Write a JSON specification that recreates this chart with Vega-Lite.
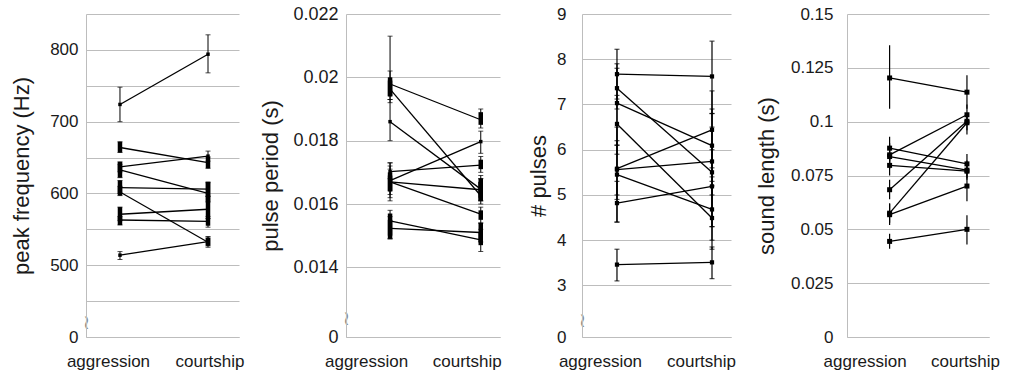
{
  "$schema": "https://vega.github.io/schema/vega-lite/v6.json",
  "padding": {"left": 10, "top": 5, "right": 5, "bottom": 5},
  "background": "white",
  "config": {
    "view": {"stroke": null},
    "font": "Liberation Sans",
    "axis": {"labelFont": "Liberation Sans", "titleFont": "Liberation Sans", "titleFontWeight": "normal", "labelColor": "#1a1a1a", "titleColor": "#1a1a1a", "domainColor": "#bdbdbd", "gridColor": "#bdbdbd", "labelFontSize": 17, "titleFontSize": 22},
    "axisY": {"labelOverlap": false, "tickCount": 30}
  },
  "datasets": {
    "p1": [
      {"id": 1, "cond": "aggression", "value": 724, "lo": 700, "hi": 748},
      {"id": 1, "cond": "courtship", "value": 794, "lo": 768, "hi": 821},
      {"id": 2, "cond": "aggression", "value": 664, "lo": 657, "hi": 672, "tlo": 657, "thi": 672},
      {"id": 2, "cond": "courtship", "value": 643, "lo": 635, "hi": 651, "tlo": 635, "thi": 651},
      {"id": 3, "cond": "aggression", "value": 637, "lo": 630, "hi": 644, "tlo": 630, "thi": 644},
      {"id": 3, "cond": "courtship", "value": 652, "lo": 645, "hi": 659},
      {"id": 4, "cond": "aggression", "value": 633, "lo": 622, "hi": 641, "tlo": 622, "thi": 641},
      {"id": 4, "cond": "courtship", "value": 600, "lo": 588, "hi": 615, "tlo": 588, "thi": 615},
      {"id": 5, "cond": "aggression", "value": 608, "lo": 600, "hi": 618, "tlo": 600, "thi": 618},
      {"id": 5, "cond": "courtship", "value": 606, "lo": 596, "hi": 616, "tlo": 596, "thi": 616},
      {"id": 6, "cond": "aggression", "value": 602, "lo": 597, "hi": 610, "tlo": 597, "thi": 610},
      {"id": 6, "cond": "courtship", "value": 532, "lo": 525, "hi": 540, "tlo": 527, "thi": 538},
      {"id": 7, "cond": "aggression", "value": 571, "lo": 562, "hi": 581, "tlo": 562, "thi": 581},
      {"id": 7, "cond": "courtship", "value": 578, "lo": 565, "hi": 596, "tlo": 565, "thi": 596},
      {"id": 8, "cond": "aggression", "value": 563, "lo": 556, "hi": 568, "tlo": 556, "thi": 568},
      {"id": 8, "cond": "courtship", "value": 561, "lo": 553, "hi": 568, "tlo": 555, "thi": 566},
      {"id": 9, "cond": "aggression", "value": 514, "lo": 508, "hi": 519},
      {"id": 9, "cond": "courtship", "value": 533, "lo": 527, "hi": 539, "tlo": 528, "thi": 538}
    ],
    "p2": [
      {"id": 1, "cond": "aggression", "value": 0.01979, "lo": 0.0192, "hi": 0.0213, "tlo": 0.0194, "thi": 0.0200},
      {"id": 1, "cond": "courtship", "value": 0.01866, "lo": 0.0184, "hi": 0.0190, "tlo": 0.0185, "thi": 0.0189},
      {"id": 2, "cond": "aggression", "value": 0.01963, "lo": 0.0193, "hi": 0.0202, "tlo": 0.0194, "thi": 0.0199},
      {"id": 2, "cond": "courtship", "value": 0.01626, "lo": 0.0160, "hi": 0.0168, "tlo": 0.0161, "thi": 0.0167},
      {"id": 3, "cond": "aggression", "value": 0.0186, "lo": 0.0180, "hi": 0.0193},
      {"id": 3, "cond": "courtship", "value": 0.01647, "lo": 0.0161, "hi": 0.0169, "tlo": 0.0162, "thi": 0.0168},
      {"id": 4, "cond": "aggression", "value": 0.01702, "lo": 0.0168, "hi": 0.0173},
      {"id": 4, "cond": "courtship", "value": 0.01723, "lo": 0.0170, "hi": 0.0175, "tlo": 0.0171, "thi": 0.0174},
      {"id": 5, "cond": "aggression", "value": 0.01674, "lo": 0.0163, "hi": 0.0172, "tlo": 0.0164, "thi": 0.0170},
      {"id": 5, "cond": "courtship", "value": 0.01797, "lo": 0.0176, "hi": 0.0183},
      {"id": 6, "cond": "aggression", "value": 0.0167, "lo": 0.0161, "hi": 0.0171, "tlo": 0.0164, "thi": 0.0169},
      {"id": 6, "cond": "courtship", "value": 0.01645, "lo": 0.0161, "hi": 0.0168, "tlo": 0.0161, "thi": 0.0167},
      {"id": 7, "cond": "aggression", "value": 0.0167, "lo": 0.0162, "hi": 0.0173},
      {"id": 7, "cond": "courtship", "value": 0.01568, "lo": 0.0154, "hi": 0.0159, "tlo": 0.0155, "thi": 0.0158},
      {"id": 8, "cond": "aggression", "value": 0.01547, "lo": 0.0149, "hi": 0.0158, "tlo": 0.0150, "thi": 0.0157},
      {"id": 8, "cond": "courtship", "value": 0.01487, "lo": 0.0145, "hi": 0.0152, "tlo": 0.0147, "thi": 0.0151},
      {"id": 9, "cond": "aggression", "value": 0.01523, "lo": 0.0149, "hi": 0.0156, "tlo": 0.0149, "thi": 0.0155},
      {"id": 9, "cond": "courtship", "value": 0.0151, "lo": 0.0148, "hi": 0.0154, "tlo": 0.0148, "thi": 0.0154}
    ],
    "p3": [
      {"id": 1, "cond": "aggression", "value": 7.67, "lo": 7.12, "hi": 8.22},
      {"id": 1, "cond": "courtship", "value": 7.62, "lo": 6.8, "hi": 8.4},
      {"id": 2, "cond": "aggression", "value": 7.36, "lo": 6.9, "hi": 7.8},
      {"id": 2, "cond": "courtship", "value": 5.5, "lo": 4.3, "hi": 6.8},
      {"id": 3, "cond": "aggression", "value": 7.03, "lo": 6.1, "hi": 7.9},
      {"id": 3, "cond": "courtship", "value": 6.09, "lo": 5.3, "hi": 6.9},
      {"id": 4, "cond": "aggression", "value": 6.57, "lo": 5.9, "hi": 7.2},
      {"id": 4, "cond": "courtship", "value": 4.49, "lo": 3.8, "hi": 5.2},
      {"id": 5, "cond": "aggression", "value": 5.58, "lo": 5.0, "hi": 6.1},
      {"id": 5, "cond": "courtship", "value": 6.44, "lo": 5.6, "hi": 7.3},
      {"id": 6, "cond": "aggression", "value": 5.56, "lo": 4.9, "hi": 6.2},
      {"id": 6, "cond": "courtship", "value": 5.74, "lo": 5.0, "hi": 6.5},
      {"id": 7, "cond": "aggression", "value": 5.45, "lo": 4.4, "hi": 6.5},
      {"id": 7, "cond": "courtship", "value": 4.68, "lo": 4.0, "hi": 5.4},
      {"id": 8, "cond": "aggression", "value": 4.82, "lo": 4.4, "hi": 5.3},
      {"id": 8, "cond": "courtship", "value": 5.19, "lo": 4.3, "hi": 6.0},
      {"id": 9, "cond": "aggression", "value": 3.46, "lo": 3.1, "hi": 3.8},
      {"id": 9, "cond": "courtship", "value": 3.51, "lo": 3.15, "hi": 3.85}
    ],
    "p4": [
      {"id": 1, "cond": "aggression", "value": 0.1203, "lo": 0.106, "hi": 0.1355},
      {"id": 1, "cond": "courtship", "value": 0.1137, "lo": 0.106, "hi": 0.1215},
      {"id": 2, "cond": "aggression", "value": 0.0877, "lo": 0.082, "hi": 0.093},
      {"id": 2, "cond": "courtship", "value": 0.0804, "lo": 0.076, "hi": 0.085},
      {"id": 3, "cond": "aggression", "value": 0.0846, "lo": 0.079, "hi": 0.09},
      {"id": 3, "cond": "courtship", "value": 0.1032, "lo": 0.099, "hi": 0.108},
      {"id": 4, "cond": "aggression", "value": 0.0838, "lo": 0.078, "hi": 0.089},
      {"id": 4, "cond": "courtship", "value": 0.0775, "lo": 0.074, "hi": 0.081},
      {"id": 5, "cond": "aggression", "value": 0.0797, "lo": 0.075, "hi": 0.085},
      {"id": 5, "cond": "courtship", "value": 0.077, "lo": 0.073, "hi": 0.082},
      {"id": 6, "cond": "aggression", "value": 0.0684, "lo": 0.064, "hi": 0.073},
      {"id": 6, "cond": "courtship", "value": 0.1002, "lo": 0.096, "hi": 0.104},
      {"id": 7, "cond": "aggression", "value": 0.0575, "lo": 0.053, "hi": 0.062},
      {"id": 7, "cond": "courtship", "value": 0.0995, "lo": 0.094, "hi": 0.103},
      {"id": 8, "cond": "aggression", "value": 0.0568, "lo": 0.052, "hi": 0.062},
      {"id": 8, "cond": "courtship", "value": 0.0701, "lo": 0.063, "hi": 0.077},
      {"id": 9, "cond": "aggression", "value": 0.0444, "lo": 0.041, "hi": 0.048},
      {"id": 9, "cond": "courtship", "value": 0.05, "lo": 0.043, "hi": 0.0565}
    ]
  },
  "bounds": "flush",
  "spacing": 496,
  "hconcat": [
    {
      "bounds": "flush",
      "spacing": 107,
      "hconcat": [
        {
          "width": 153, "height": 323,
          "data": {"name": "p1"},
          "encoding": {
            "x": {"field": "cond", "type": "nominal", "sort": ["aggression", "courtship"],
              "scale": {"type": "point", "padding": 0.369, "align": 0.523},
              "axis": {"title": null, "labelAngle": 0, "ticks": false, "labelFontSize": 17, "labelPadding": 16,
                "labelOffset": {"condition": {"test": "datum.value == 'aggression'", "value": -12}, "value": 1.5}}}
          },
          "layer": [
            {"mark": {"type": "rule", "color": "black", "strokeWidth": 1},
             "encoding": {"y": {"field": "lo", "type": "quantitative", "title": "peak frequency (Hz)",
                "scale": {"domain": [400, 850], "nice": false, "zero": false},
                "axis": {"values": [400, 420, 450, 500, 550, 600, 650, 700, 750, 800, 850],
                  "labelExpr": "datum.value == 400 ? '0' : datum.value == 420 ? '≀' : (datum.value % 100 == 0 ? toString(datum.value) : '')",
                  "ticks": false, "grid": true, "labelOverlap": false, "tickCount": 30,
                  "labelPadding": {"condition": {"test": "datum.value == 420", "value": 0}, "value": 8},
                  "labelAlign": {"condition": {"test": "datum.value == 420", "value": "center"}, "value": "right"},
                  "labelColor": {"condition": {"test": "datum.value == 420", "value": "#8a8a8a"}, "value": "#1a1a1a"},
                  "labelFont": {"condition": {"test": "datum.value == 420", "value": "DejaVu Sans"}, "value": "Liberation Sans"},
                  "labelFontSize": {"condition": {"test": "datum.value == 420", "value": 20}, "value": 17},
                  "gridOpacity": {"condition": {"test": "datum.value == 420", "value": 0}, "value": 1},
                  "titlePadding": 16}},
               "y2": {"field": "hi"}}},
            {"mark": {"type": "rule", "color": "black", "strokeWidth": 4.5},
             "encoding": {"y": {"field": "tlo", "type": "quantitative"}, "y2": {"field": "thi"}}},
            {"mark": {"type": "tick", "color": "black", "size": 5, "thickness": 1},
             "encoding": {"y": {"field": "lo", "type": "quantitative"}}},
            {"mark": {"type": "tick", "color": "black", "size": 5, "thickness": 1},
             "encoding": {"y": {"field": "hi", "type": "quantitative"}}},
            {"mark": {"type": "line", "color": "black", "strokeWidth": 1.3},
             "encoding": {"y": {"field": "value", "type": "quantitative"}, "detail": {"field": "id"}}},
            {"mark": {"type": "point", "shape": "square", "filled": true, "size": 12, "color": "black", "opacity": 1},
             "encoding": {"y": {"field": "value", "type": "quantitative"}}}
          ]
        },
        {
          "width": 154, "height": 323,
          "data": {"name": "p2"},
          "encoding": {
            "x": {"field": "cond", "type": "nominal", "sort": ["aggression", "courtship"],
              "scale": {"type": "point", "padding": 0.349, "align": 0.696},
              "axis": {"title": null, "labelAngle": 0, "ticks": false, "labelFontSize": 17, "labelPadding": 16,
                "labelOffset": {"condition": {"test": "datum.value == 'aggression'", "value": -24}, "value": -14}}}
          },
          "layer": [
            {"mark": {"type": "rule", "color": "black", "strokeWidth": 1},
             "encoding": {"y": {"field": "lo", "type": "quantitative", "title": "pulse period (s)",
                "scale": {"domain": [0.0118, 0.022], "nice": false, "zero": false},
                "axis": {"values": [0.0118, 0.0124, 0.014, 0.016, 0.018, 0.02, 0.022],
                  "labelExpr": "datum.value < 0.012 ? '0' : datum.value < 0.013 ? '≀' : toString(datum.value)",
                  "ticks": false, "grid": true, "labelOverlap": false, "tickCount": 30,
                  "labelPadding": {"condition": {"test": "datum.value > 0.012 && datum.value < 0.013", "value": 0}, "value": 8},
                  "labelAlign": {"condition": {"test": "datum.value > 0.012 && datum.value < 0.013", "value": "center"}, "value": "right"},
                  "labelColor": {"condition": {"test": "datum.value > 0.012 && datum.value < 0.013", "value": "#8a8a8a"}, "value": "#1a1a1a"},
                  "labelFont": {"condition": {"test": "datum.value > 0.012 && datum.value < 0.013", "value": "DejaVu Sans"}, "value": "Liberation Sans"},
                  "labelFontSize": {"condition": {"test": "datum.value > 0.012 && datum.value < 0.013", "value": 20}, "value": 18},
                  "gridOpacity": {"condition": {"test": "datum.value > 0.012 && datum.value < 0.013", "value": 0}, "value": 1},
                  "titlePadding": 10}},
               "y2": {"field": "hi"}}},
            {"mark": {"type": "rule", "color": "black", "strokeWidth": 4.5},
             "encoding": {"y": {"field": "tlo", "type": "quantitative"}, "y2": {"field": "thi"}}},
            {"mark": {"type": "tick", "color": "black", "size": 5, "thickness": 1},
             "encoding": {"y": {"field": "lo", "type": "quantitative"}}},
            {"mark": {"type": "tick", "color": "black", "size": 5, "thickness": 1},
             "encoding": {"y": {"field": "hi", "type": "quantitative"}}},
            {"mark": {"type": "line", "color": "black", "strokeWidth": 1.3},
             "encoding": {"y": {"field": "value", "type": "quantitative"}, "detail": {"field": "id"}}},
            {"mark": {"type": "point", "shape": "square", "filled": true, "size": 12, "color": "black", "opacity": 1},
             "encoding": {"y": {"field": "value", "type": "quantitative"}}}
          ]
        }
      ]
    },
    {
      "bounds": "flush",
      "spacing": 116,
      "hconcat": [
        {
          "width": 149, "height": 323,
          "data": {"name": "p3"},
          "encoding": {
            "x": {"field": "cond", "type": "nominal", "sort": ["aggression", "courtship"],
              "scale": {"type": "point", "padding": 0.284, "align": 0.648},
              "axis": {"title": null, "labelAngle": 0, "ticks": false, "labelFontSize": 17, "labelPadding": 16,
                "labelOffset": {"condition": {"test": "datum.value == 'aggression'", "value": -17}, "value": -11}}}
          },
          "layer": [
            {"mark": {"type": "rule", "color": "black", "strokeWidth": 1.2},
             "encoding": {"y": {"field": "lo", "type": "quantitative", "title": "# pulses",
                "scale": {"domain": [1.86, 9], "nice": false, "zero": false},
                "axis": {"values": [1.86, 2.22, 3, 4, 5, 6, 7, 8, 9],
                  "labelExpr": "datum.value < 2 ? '0' : datum.value < 2.5 ? '≀' : toString(datum.value)",
                  "ticks": false, "grid": true, "labelOverlap": false, "tickCount": 30,
                  "labelPadding": {"condition": {"test": "datum.value > 2 && datum.value < 2.5", "value": 0}, "value": 16},
                  "labelAlign": {"condition": {"test": "datum.value > 2 && datum.value < 2.5", "value": "center"}, "value": "right"},
                  "labelColor": {"condition": {"test": "datum.value > 2 && datum.value < 2.5", "value": "#8a8a8a"}, "value": "#1a1a1a"},
                  "labelFont": {"condition": {"test": "datum.value > 2 && datum.value < 2.5", "value": "DejaVu Sans"}, "value": "Liberation Sans"},
                  "labelFontSize": {"condition": {"test": "datum.value > 2 && datum.value < 2.5", "value": 20}, "value": 17},
                  "gridOpacity": {"condition": {"test": "datum.value > 2 && datum.value < 2.5", "value": 0}, "value": 1},
                  "titlePadding": 6}},
               "y2": {"field": "hi"}}},
            {"mark": {"type": "tick", "color": "black", "size": 5, "thickness": 1.2},
             "encoding": {"y": {"field": "lo", "type": "quantitative"}}},
            {"mark": {"type": "tick", "color": "black", "size": 5, "thickness": 1.2},
             "encoding": {"y": {"field": "hi", "type": "quantitative"}}},
            {"mark": {"type": "line", "color": "black", "strokeWidth": 1.3},
             "encoding": {"y": {"field": "value", "type": "quantitative"}, "detail": {"field": "id"}}},
            {"mark": {"type": "point", "shape": "square", "filled": true, "size": 18, "color": "black", "opacity": 1},
             "encoding": {"y": {"field": "value", "type": "quantitative"}}}
          ]
        },
        {
          "width": 142, "height": 323,
          "data": {"name": "p4"},
          "encoding": {
            "x": {"field": "cond", "type": "nominal", "sort": ["aggression", "courtship"],
              "scale": {"type": "point", "padding": 0.418, "align": 0.659},
              "axis": {"title": null, "labelAngle": 0, "ticks": false, "labelFontSize": 17, "labelPadding": 16,
                "labelOffset": {"condition": {"test": "datum.value == 'aggression'", "value": -25}, "value": -2}}}
          },
          "layer": [
            {"mark": {"type": "rule", "color": "black", "strokeWidth": 1.2},
             "encoding": {"y": {"field": "lo", "type": "quantitative", "title": "sound length (s)",
                "scale": {"domain": [0, 0.15], "nice": false, "zero": false},
                "axis": {"values": [0, 0.025, 0.05, 0.075, 0.1, 0.125, 0.15],
                  "labelExpr": "toString(datum.value)", "tickCount": 30,
                  "ticks": false, "grid": true, "labelOverlap": false, "labelPadding": 14, "titlePadding": 12}},
               "y2": {"field": "hi"}}},
            {"mark": {"type": "line", "color": "black", "strokeWidth": 1.3},
             "encoding": {"y": {"field": "value", "type": "quantitative"}, "detail": {"field": "id"}}},
            {"mark": {"type": "point", "shape": "square", "filled": true, "size": 25, "color": "black", "opacity": 1},
             "encoding": {"y": {"field": "value", "type": "quantitative"}}}
          ]
        }
      ]
    }
  ]
}
